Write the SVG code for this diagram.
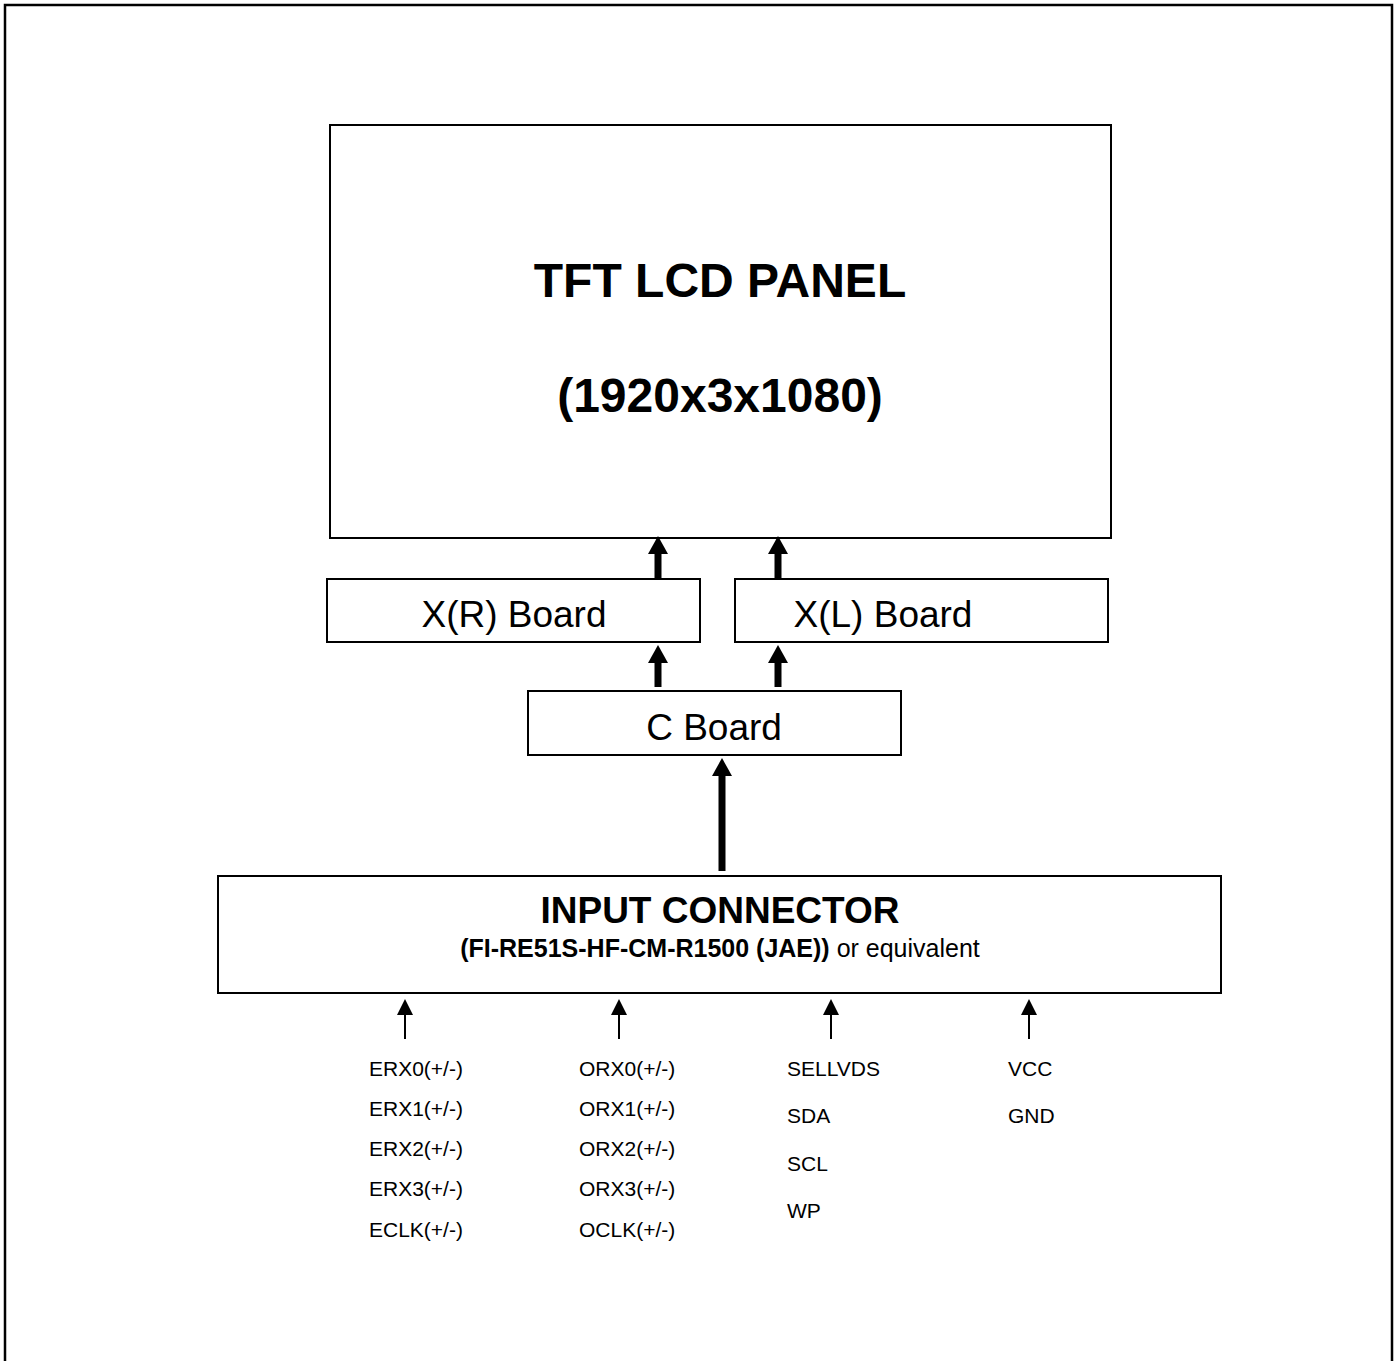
<svg xmlns="http://www.w3.org/2000/svg" width="1396" height="1361" viewBox="0 0 1396 1361">
<style>
  .box { fill: #fff; stroke: #000; stroke-width: 2; }
  .t { font-family: "Liberation Sans", Arial, sans-serif; fill: #000; }
  .big { font-size: 48px; font-weight: bold; text-anchor: middle; }
  .brd { font-size: 37px; text-anchor: middle; }
  .sig { font-size: 21px; }
  .thick { stroke: #000; stroke-width: 7; fill: none; }
  .thin { stroke: #000; stroke-width: 2; fill: none; }
</style>
<defs>
  <marker id="hb" markerUnits="userSpaceOnUse" markerWidth="20" markerHeight="20" refX="0" refY="0" orient="auto" overflow="visible">
    <path d="M0,-10 L18,0 L0,10 Z" fill="#000"/>
  </marker>
  <marker id="hs" markerUnits="userSpaceOnUse" markerWidth="16" markerHeight="16" refX="0" refY="0" orient="auto" overflow="visible">
    <path d="M0,-8 L16,0 L0,8 Z" fill="#000"/>
  </marker>
</defs>
<rect width="1396" height="1361" fill="#fff"/>
<path d="M5,1365 L5,5 L1392,5 L1392,1365" fill="none" stroke="#000" stroke-width="2.5"/>

<g id="panel">
  <rect class="box" x="330" y="125" width="781" height="413"/>
  <text class="t big" x="720" y="297">TFT LCD PANEL</text>
  <text class="t big" x="720" y="412">(1920x3x1080)</text>
</g>
<g id="xr-board">
  <rect class="box" x="327" y="579" width="373" height="63"/>
  <text class="t brd" x="514" y="627">X(R) Board</text>
</g>
<g id="xl-board">
  <rect class="box" x="735" y="579" width="373" height="63"/>
  <text class="t brd" x="883" y="627">X(L) Board</text>
</g>
<g id="c-board">
  <rect class="box" x="528" y="691" width="373" height="64"/>
  <text class="t brd" x="714" y="740">C Board</text>
</g>
<g id="input-connector">
  <rect class="box" x="218" y="876" width="1003" height="117"/>
  <text class="t" x="720" y="923" font-size="37" font-weight="bold" text-anchor="middle">INPUT CONNECTOR</text>
  <text class="t" x="720" y="957" font-size="25" text-anchor="middle"><tspan font-weight="bold">(FI-RE51S-HF-CM-R1500 (JAE))</tspan> or equivalent</text>
</g>
<g id="signals-e">
  <text class="t sig" x="369" y="1076">ERX0(+/-)</text>
  <text class="t sig" x="369" y="1116">ERX1(+/-)</text>
  <text class="t sig" x="369" y="1156">ERX2(+/-)</text>
  <text class="t sig" x="369" y="1196">ERX3(+/-)</text>
  <text class="t sig" x="369" y="1237">ECLK(+/-)</text>
</g>
<g id="signals-o">
  <text class="t sig" x="579" y="1076">ORX0(+/-)</text>
  <text class="t sig" x="579" y="1116">ORX1(+/-)</text>
  <text class="t sig" x="579" y="1156">ORX2(+/-)</text>
  <text class="t sig" x="579" y="1196">ORX3(+/-)</text>
  <text class="t sig" x="579" y="1237">OCLK(+/-)</text>
</g>
<g id="signals-ctrl">
  <text class="t sig" x="787" y="1076">SELLVDS</text>
  <text class="t sig" x="787" y="1123">SDA</text>
  <text class="t sig" x="787" y="1171">SCL</text>
  <text class="t sig" x="787" y="1218">WP</text>
</g>
<g id="signals-power">
  <text class="t sig" x="1008" y="1076">VCC</text>
  <text class="t sig" x="1008" y="1123">GND</text>
</g>

<g id="connectors">
  <line class="thick" x1="658" y1="579" x2="658" y2="554" marker-end="url(#hb)"/>
  <line class="thick" x1="778" y1="579" x2="778" y2="554" marker-end="url(#hb)"/>
  <line class="thick" x1="658" y1="687" x2="658" y2="663" marker-end="url(#hb)"/>
  <line class="thick" x1="778" y1="687" x2="778" y2="663" marker-end="url(#hb)"/>
  <line class="thick" x1="722" y1="871" x2="722" y2="776" marker-end="url(#hb)"/>
  <path d="M405,1039 V1015" class="thin" marker-end="url(#hs)"/>
  <path d="M619,1039 V1015" class="thin" marker-end="url(#hs)"/>
  <path d="M831,1039 V1015" class="thin" marker-end="url(#hs)"/>
  <path d="M1029,1039 V1015" class="thin" marker-end="url(#hs)"/>
</g>
</svg>
